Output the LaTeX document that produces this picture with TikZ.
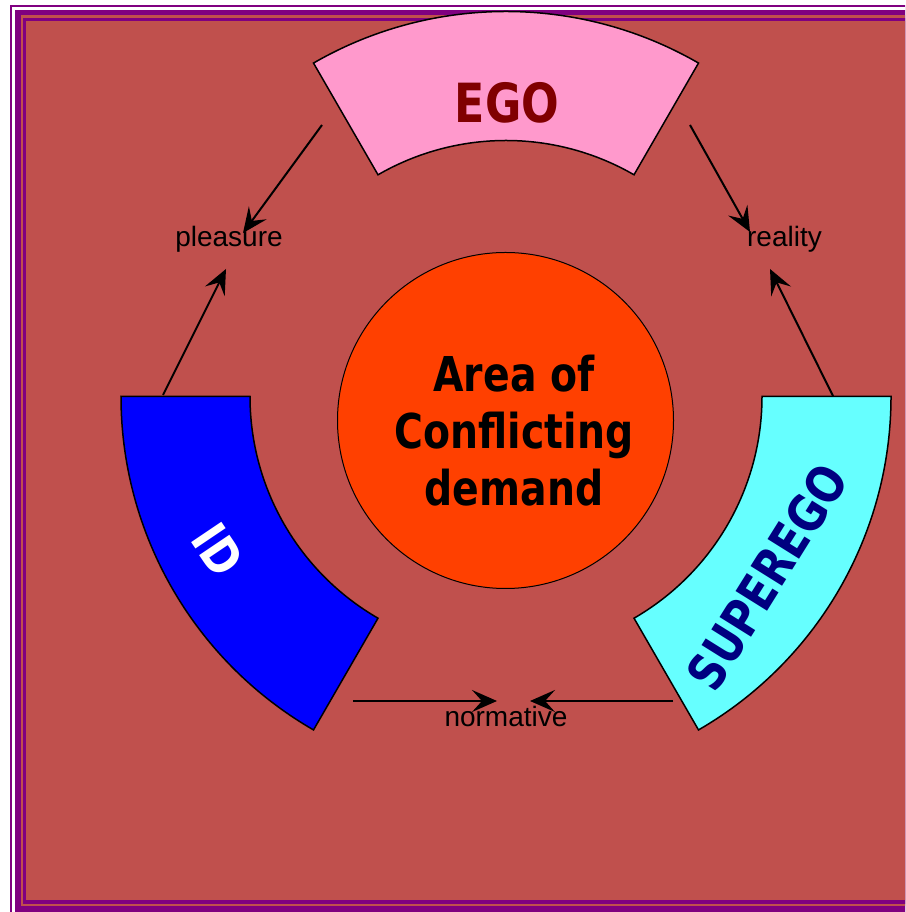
\documentclass[tikz,border=0pt]{standalone}
\usepackage{fontspec}
\setmainfont{Liberation Sans}
\newfontfamily\tahoma[FakeStretch=0.82]{DejaVu Sans}
\usepackage{xcolor}
\usepackage{tikz}
\usetikzlibrary{arrows.meta, calc}
\definecolor{slidered}{RGB}{192, 80, 77}
\definecolor{framepurple}{RGB}{128, 0, 128}
\definecolor{egopink}{RGB}{255, 153, 204}
\definecolor{egotext}{RGB}{128, 0, 0}
\definecolor{idblue}{RGB}{0, 0, 255}
\definecolor{supercyan}{RGB}{102, 255, 255}
\definecolor{supertext}{RGB}{0, 0, 128}
\definecolor{corefill}{RGB}{255, 64, 0}

\begin{document}
\begin{tikzpicture}[
    x=1pt, y=1pt,
    ringpart/.style={draw=black, line width=1.5pt, line join=miter},
    lbl/.style={font=\fontsize{28}{30}\selectfont, anchor=base, inner sep=0pt},
    arrow/.style={-{Stealth[length=25pt, width=22pt, inset=10pt]}, line width=2pt},
    bigtext/.style={font=\tahoma\bfseries\fontsize{48}{57}\selectfont, inner sep=0pt}
]
    \clip (0,0) rectangle (905,912);
    \fill[white] (0,0) rectangle (905,912);
    \fill[framepurple] (10,-20) rectangle (930,907);
    \fill[white] (12,-15) rectangle (930,905);
    \fill[framepurple] (15,0) rectangle (930,902);
    \fill[slidered] (21,6) rectangle (930,897);
    \fill[framepurple] (23,8) rectangle (930,894);
    \fill[slidered] (26,12) rectangle (930,891);

    \coordinate (ring) at (506,515.5);
    \coordinate (egoL) at (322,787);
    \coordinate (egoR) at (690,787);
    \coordinate (idT) at (163,517);
    \coordinate (superT) at (833,516);
    \coordinate (idB) at (353,211);
    \coordinate (superB) at (673,211);
    \coordinate (pleasureA) at (243,679);
    \coordinate (pleasureB) at (226,643);
    \coordinate (realityA) at (750,680);
    \coordinate (realityB) at (770,643);
    \coordinate (normativeA) at (497,211);
    \coordinate (normativeB) at (530,211);

    \node[lbl] (pleasure) at (229,665) {pleasure};
    \node[lbl] (reality) at (784.5,665) {reality};
    \node[lbl] (normative) at (506,185) {normative};

    \draw[arrow] (egoL) -- (pleasureA);
    \draw[arrow] (idT) -- (pleasureB);
    \draw[arrow] (egoR) -- (realityA);
    \draw[arrow] (superT) -- (realityB);
    \draw[arrow] (idB) -- (normativeA);
    \draw[arrow] (superB) -- (normativeB);

    \draw[ringpart, fill=egopink] ($(ring)+(60:385pt)$) arc[start angle=60, end angle=120, radius=385pt]
        -- ($(ring)+(120:256pt)$) arc[start angle=120, end angle=60, radius=256pt] -- cycle;
    \draw[ringpart, fill=idblue] ($(ring)+(180:385pt)$) arc[start angle=180, end angle=240, radius=385pt]
        -- ($(ring)+(240:256pt)$) arc[start angle=240, end angle=180, radius=256pt] -- cycle;
    \draw[ringpart, fill=supercyan] ($(ring)+(300:385pt)$) arc[start angle=300, end angle=360, radius=385pt]
        -- ($(ring)+(360:256pt)$) arc[start angle=360, end angle=300, radius=256pt] -- cycle;

    \node[circle, draw=black, line width=1pt, fill=corefill, minimum size=336pt, inner sep=0pt] (core) at (505.5,491.5) {};

    \node[bigtext, font=\tahoma\bfseries\fontsize{54}{60}\selectfont, text=egotext, anchor=base] (ego) at (507,789) {EGO};
    \node[bigtext, font=\tahoma\bfseries\fontsize{50}{56}\selectfont, text=white, rotate=-56] (id) at (218,362) {ID};
    \node[bigtext, font=\tahoma\bfseries\fontsize{51}{56}\selectfont, text=supertext, rotate=58] (superego) at (767,335) {SUPEREGO};
    \node[bigtext, align=center] (conflict) at (514,481) {Area of\\Conflicting\\demand};
\end{tikzpicture}
\end{document}
